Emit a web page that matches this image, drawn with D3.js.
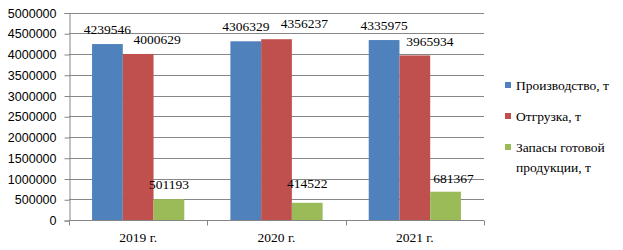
<!DOCTYPE html>
<html>
<head>
<meta charset="utf-8">
<script src="https://cdn.jsdelivr.net/npm/d3@7"></script>
<style>
  body { margin: 0; background: #fff; }
  svg { display: block; }
</style>
</head>
<body>
<div id="chart"></div>
<script>
// data
var years = ["2019 г.", "2020 г.", "2021 г."];
var seriesNames = ["Производство, т", "Отгрузка, т", "Запасы готовой продукции, т"];
var production = [4239546, 4306329, 4335975];
var shipment = [4000629, 4356237, 3965934];
var stock = [501193, 414522, 681367];
var yTicks = [0, 500000, 1000000, 1500000, 2000000, 2500000, 3000000, 3500000, 4000000, 4500000, 5000000];

var colors = ["#4F81BD", "#C0504D", "#9BBB59"];
// manual label nudges (as in the source picture) [series][year] -> [dx, dy]
var labelNudge = [
  [[0, 0], [0, 0], [0, 0]],
  [[19, 0], [28, -1.5], [15, 1]],
  [[0, 0], [0, -5], [8, 1]]
];

var width = 623, height = 250;
var plotLeft = 69, plotRight = 484, plotTop = 12.5, plotBottom = 220;

var values = [production, shipment, stock];
var data = years.map(function (yr, i) {
  return { year: yr, vals: values.map(function (s, k) { return { k: k, i: i, v: s[i] }; }) };
});

var svg = d3.select("#chart").append("svg")
  .attr("width", width).attr("height", height);

var x0 = d3.scaleBand().domain(years).range([plotLeft, plotRight]).paddingInner(0).paddingOuter(0);
var x1 = d3.scaleBand().domain([0, 1, 2]).range([0, x0.bandwidth()]).paddingInner(0).paddingOuter(0.75);
var y = d3.scaleLinear().domain([0, 5000000]).range([plotBottom, plotTop]);

/* gridlines */
svg.append("g").selectAll("line")
  .data(yTicks.slice(1))
  .enter().append("line")
  .attr("x1", plotLeft).attr("x2", plotRight)
  .attr("y1", function (d) { return Math.round(y(d)) + 0.5; })
  .attr("y2", function (d) { return Math.round(y(d)) + 0.5; })
  .attr("stroke", "#868686").attr("stroke-width", 1);

/* bars */
var groups = svg.append("g").selectAll("g")
  .data(data).enter().append("g")
  .attr("transform", function (d) { return "translate(" + x0(d.year) + ",0)"; });

groups.selectAll("rect")
  .data(function (d) { return d.vals; })
  .enter().append("rect")
  .attr("x", function (d) { return x1(d.k); })
  .attr("width", x1.bandwidth())
  .attr("y", function (d) { return y(d.v); })
  .attr("height", function (d) { return y(0) - y(d.v); })
  .attr("fill", function (d) { return colors[d.k]; });

groups.selectAll("text")
  .data(function (d) { return d.vals; })
  .enter().append("text")
  .attr("x", function (d) { return x1(d.k) + x1.bandwidth() / 2 + labelNudge[d.k][d.i][0]; })
  .attr("y", function (d) { return y(d.v) - 10 + labelNudge[d.k][d.i][1]; })
  .attr("text-anchor", "middle")
  .style("font-family", "'Liberation Serif', 'Times New Roman', serif")
  .style("font-size", "13.5px")
  .attr("fill", "#000")
  .text(function (d) { return d.v; });

/* axes */
var yAxis = d3.axisLeft(y).tickValues(yTicks).tickSize(5).tickPadding(8).tickFormat(d3.format("d"));
var gy = svg.append("g")
  .attr("transform", "translate(" + (plotLeft + 0.5) + ",0.5)")
  .call(yAxis);
gy.select(".domain").attr("stroke", "#868686");
gy.selectAll(".tick line").attr("stroke", "#868686");
gy.selectAll(".tick text")
  .style("font-family", "'Liberation Sans', Arial, sans-serif")
  .style("font-size", "12.5px")
  .attr("fill", "#000");

var gx = svg.append("g").attr("transform", "translate(0," + (Math.round(y(0)) + 0.5) + ")");
gx.append("line").attr("x1", plotLeft).attr("x2", plotRight).attr("stroke", "#868686");
gx.selectAll("line.tk")
  .data(years.map(function (d) { return x0(d); }).concat([plotRight]))
  .enter().append("line").attr("class", "tk")
  .attr("x1", function (d) { return Math.round(d) + 0.5; })
  .attr("x2", function (d) { return Math.round(d) + 0.5; })
  .attr("y1", 0).attr("y2", 5)
  .attr("stroke", "#868686");
gx.selectAll("text")
  .data(years).enter().append("text")
  .attr("x", function (d) { return x0(d) + x0.bandwidth() / 2; })
  .attr("y", 21)
  .attr("text-anchor", "middle")
  .style("font-family", "'Liberation Serif', 'Times New Roman', serif")
  .style("font-size", "13.5px")
  .text(function (d) { return d; });

/* legend */
var legendRows = [[seriesNames[0]], [seriesNames[1]], ["Запасы готовой", "продукции, т"]];
var legendY = [85, 116, 147];
var legend = svg.append("g");
legendRows.forEach(function (lines, k) {
  legend.append("rect")
    .attr("x", 505).attr("y", legendY[k] - 3)
    .attr("width", 6).attr("height", 6)
    .attr("fill", colors[k]);
  var t = legend.append("text")
    .attr("x", 516).attr("y", legendY[k] + 4.5)
    .style("font-family", "'Liberation Serif', 'Times New Roman', serif")
    .style("font-size", "13.5px");
  lines.forEach(function (ln, j) {
    t.append("tspan").attr("x", 516).attr("dy", j ? 20 : 0).text(ln);
  });
});
</script>
</body>
</html>
